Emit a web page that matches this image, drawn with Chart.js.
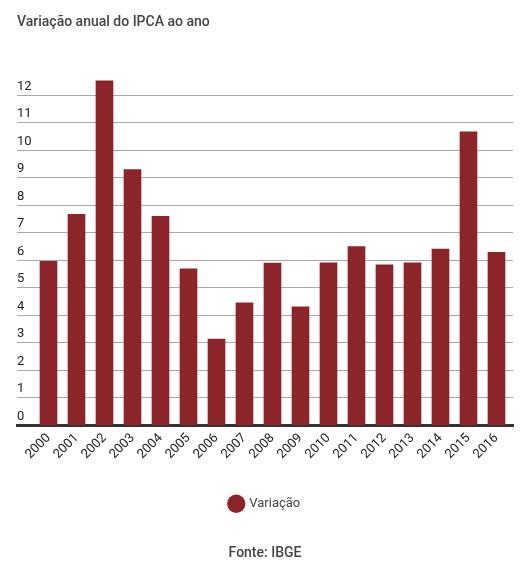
<!DOCTYPE html>
<html>
<head>
<meta charset="utf-8">
<script src="https://cdn.jsdelivr.net/npm/chart.js@4.4.0/dist/chart.umd.min.js"></script>
<style>
  html, body { margin: 0; padding: 0; background: #fff; }
  #wrap { width: 530px; height: 569px; position: relative; }
</style>
</head>
<body>
<div id="wrap"><canvas id="chart"></canvas></div>
<script>
// dados IPCA
const anos = ["2000", "2001", "2002", "2003", "2004", "2005", "2006", "2007", "2008",
  "2009", "2010", "2011", "2012", "2013", "2014", "2015", "2016"];
const variacao = [5.97, 7.67, 12.53, 9.30, 7.60, 5.69, 3.14, 4.46, 5.90,
  4.31, 5.91, 6.50, 5.84, 5.91, 6.41, 10.67, 6.29];
const yTicks = [0, 1, 2, 3, 4, 5, 6, 7, 8, 9, 10, 11, 12];

const ctx = document.getElementById("chart");
Chart.defaults.font.family = "Roboto";

const chart = new Chart(ctx, {
  type: "bar",
  data: {
    datasets: [{
      label: "Variação",
      data: variacao.map((v, i) => ({ x: i, y: v })),
      backgroundColor: "#8b2529",
      borderWidth: 0,
      barThickness: 17
    }]
  },
  options: {
    responsive: true,
    maintainAspectRatio: false,
    animation: false,
    layout: { padding: { left: 17, right: 17, top: 0, bottom: 0 } },
    scales: {
      x: {
        type: "linear",
        offset: false,
        min: -1.125,
        max: 16.59,
        grid: { display: false, drawTicks: false },
        border: { display: true, color: "#333", width: 3 },
        afterBuildTicks: (axis) => { axis.ticks = anos.map((a, i) => ({ value: i })); },
        ticks: {
          autoSkip: false,
          maxRotation: 45,
          minRotation: 45,
          padding: 5,
          color: "#222",
          font: { size: 13 },
          callback: (v) => anos[v]
        }
      },
      y: {
        min: 0,
        max: 12.6,
        afterBuildTicks: (axis) => { axis.ticks = yTicks.map(v => ({ value: v })); },
        grid: { color: "#aaa", lineWidth: 1, drawTicks: false },
        border: { display: false },
        ticks: {
          mirror: true,
          padding: 0,
          labelOffset: -9,
          color: "#222",
          font: { size: 13 }
        }
      }
    },
    plugins: {
      title: {
        display: true,
        text: "Variação anual do IPCA ao ano",
        align: "start",
        color: "#444",
        font: { size: 14, weight: "500" },
        padding: { top: 14, bottom: 48 }
      },
      subtitle: {
        display: true,
        position: "bottom",
        text: "Fonte: IBGE",
        color: "#444",
        font: { size: 14, weight: "500" },
        padding: { top: 25, bottom: 7 }
      },
      legend: {
        position: "bottom",
        labels: {
          usePointStyle: true,
          pointStyle: "circle",
          boxWidth: 16,
          boxHeight: 16,
          color: "#444",
          font: { size: 13 },
          padding: 30
        }
      },
      tooltip: { enabled: false }
    }
  }
});
</script>
</body>
</html>
